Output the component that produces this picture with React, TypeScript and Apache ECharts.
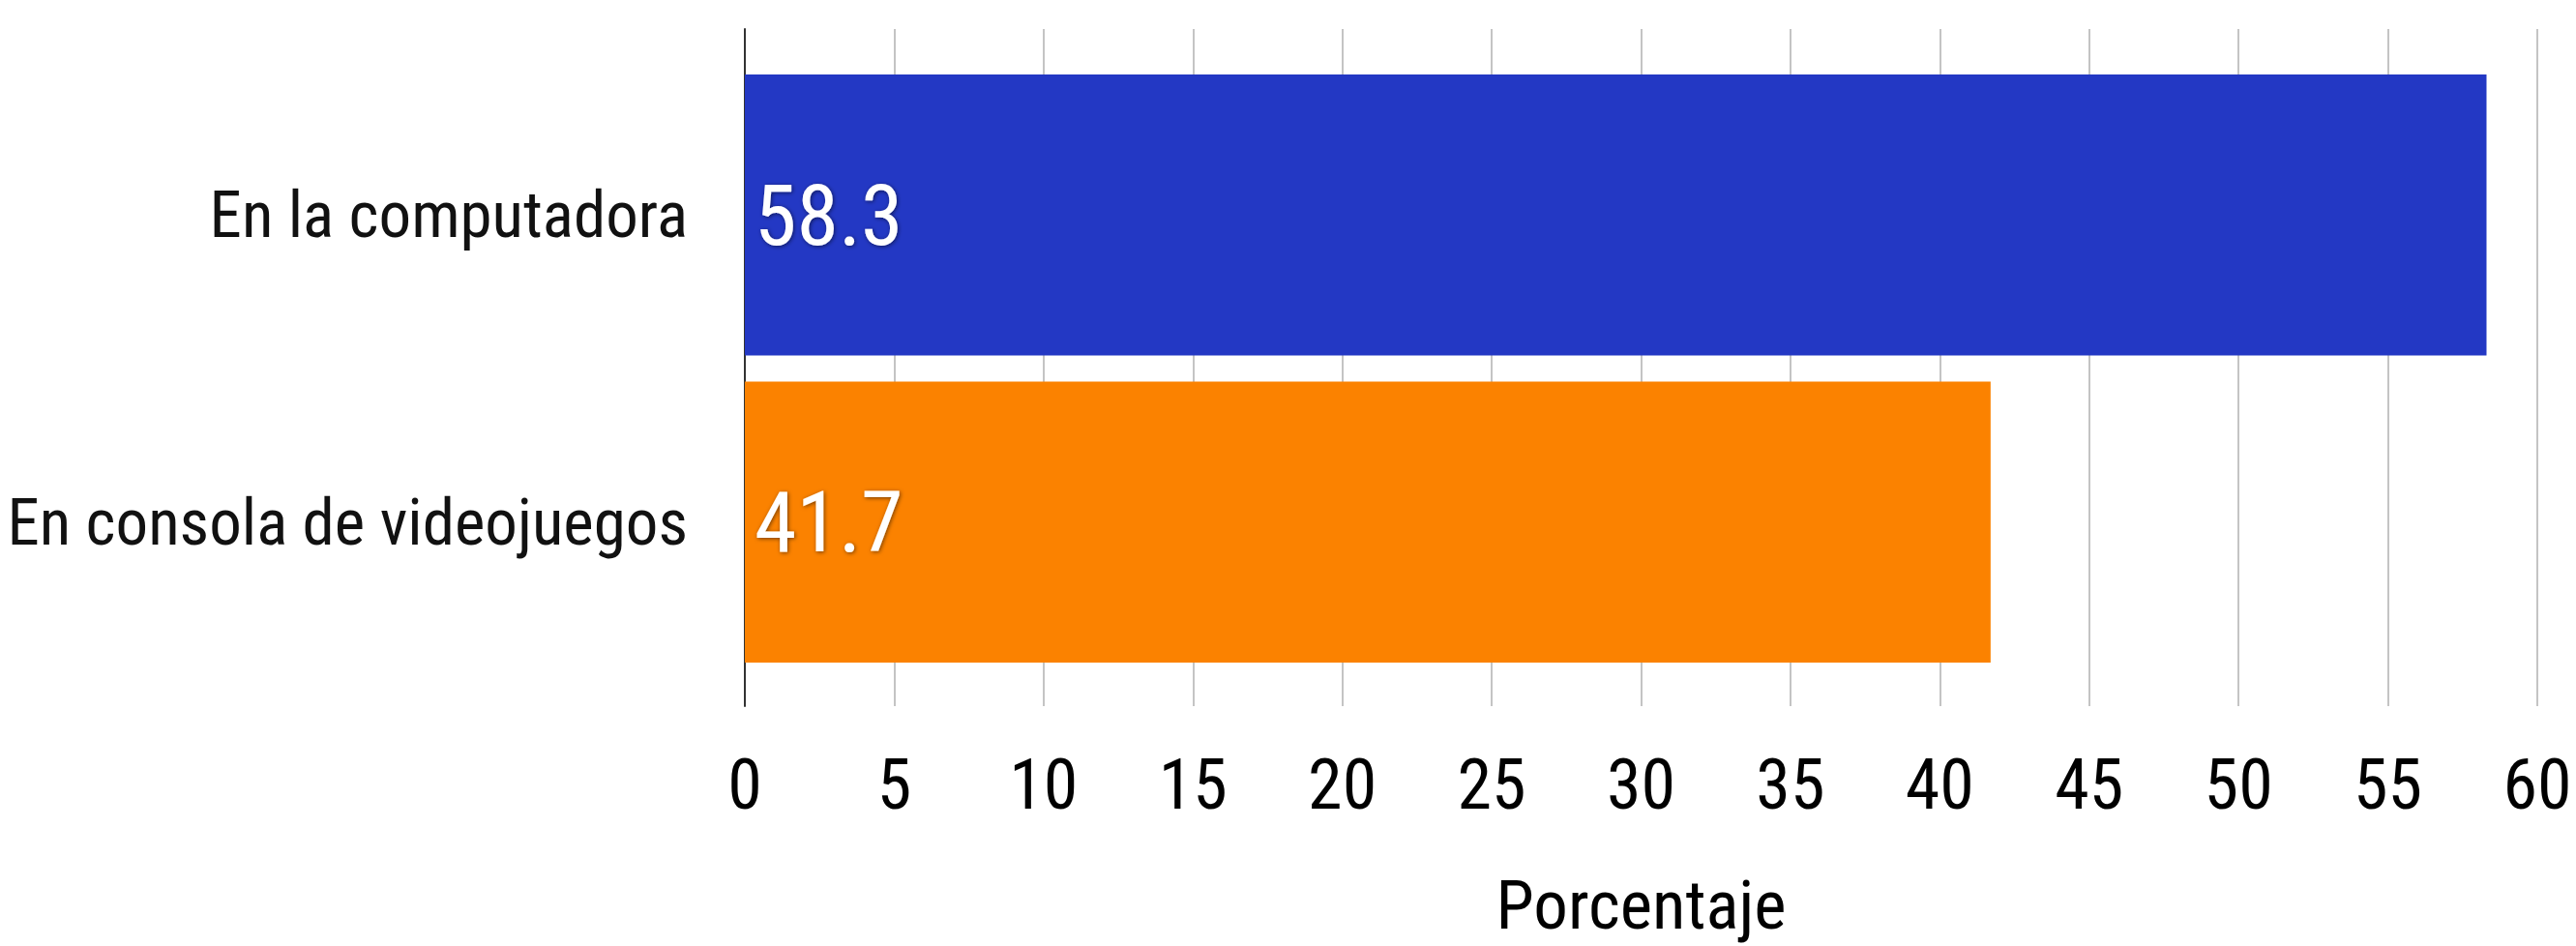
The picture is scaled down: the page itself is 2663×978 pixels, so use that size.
import React, { useEffect, useRef } from "react";
import * as echarts from "echarts";

const categories: string[] = ["En la computadora", "En consola de videojuegos"];
const values: number[] = [58.3, 41.7];
const barColors: string[] = ["#2338C4", "#FB8200"];
const axisName = "Porcentaje";
const xMin = 0;
const xMax = 60;
const xInterval = 5;

const FONT = "'Roboto Condensed', 'Liberation Sans Narrow', 'DejaVu Sans Condensed', Roboto, sans-serif";

export default function App() {
  const ref = useRef<HTMLDivElement | null>(null);
  useEffect(() => {
    document.body.style.margin = "0";
    if (!ref.current) return;
    const chart = echarts.init(ref.current, undefined, { renderer: "svg" });
    const option: any = {
      animation: false,
      backgroundColor: "#ffffff",
      grid: [
        { left: 770, right: 40, top: 30, bottom: 248, containLabel: false, outerBoundsMode: "none" },
        { left: 770, right: 40, top: 63.5, bottom: 279.5, containLabel: false, outerBoundsMode: "none" },
      ],
      xAxis: [
        {
          gridIndex: 0,
          type: "value",
          min: xMin,
          max: xMax,
          interval: xInterval,
          axisLine: { show: false },
          axisTick: { show: false },
          splitLine: { show: true, lineStyle: { color: "#c4c4c4", width: 2 } },
          axisLabel: {
            fontFamily: FONT,
            fontSize: 72,
            color: "#000000",
            margin: 45,
          },
          name: axisName,
          nameLocation: "middle",
          nameGap: 170,
          nameTextStyle: { fontFamily: FONT, fontSize: 71, color: "#000000" },
        },
        {
          gridIndex: 1,
          type: "value",
          min: xMin,
          max: xMax,
          interval: xInterval,
          show: false,
          splitLine: { show: false },
        },
      ],
      yAxis: [
        {
          gridIndex: 0,
          type: "category",
          data: categories,
          inverse: true,
          axisLine: { show: true, lineStyle: { color: "#333333", width: 2 } },
          axisTick: { show: false },
          axisLabel: { show: false },
          splitLine: { show: false },
        },
        {
          gridIndex: 1,
          type: "category",
          data: categories,
          inverse: true,
          axisLine: { show: false },
          axisTick: { show: false },
          splitLine: { show: false },
          axisLabel: {
            fontFamily: FONT,
            fontSize: 67,
            color: "#111111",
            margin: 59,
            align: "right",
          },
        },
      ],
      series: [
        {
          type: "bar",
          xAxisIndex: 1,
          yAxisIndex: 1,
          barCategoryGap: "8.5%",
          data: values.map((v, i) => ({ value: v, itemStyle: { color: barColors[i] } })),
          label: {
            show: true,
            position: "insideLeft",
            distance: 10,
            fontFamily: FONT,
            fontSize: 88,
            color: "#ffffff",
            textShadowColor: "rgba(0,0,0,0.55)",
            textShadowBlur: 4,
            textShadowOffsetX: 1,
            textShadowOffsetY: 1,
            formatter: (p: any) => String(p.value),
          },
        },
      ],
    };
    chart.setOption(option);
    return () => {
      chart.dispose();
    };
  }, []);
  return <div ref={ref} style={{ width: 2663, height: 978 }} />;
}
